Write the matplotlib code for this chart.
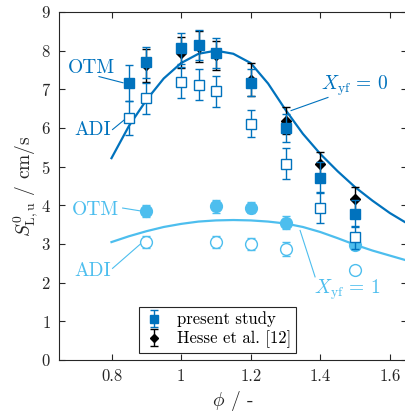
import numpy as np
import matplotlib
matplotlib.use("Agg")
import matplotlib.pyplot as plt

plt.rcParams['font.family'] = 'serif'
plt.rcParams['font.serif'] = ['cmr10', 'DejaVu Serif']
plt.rcParams['mathtext.fontset'] = 'cm'
plt.rcParams['axes.formatter.use_mathtext'] = True

dark = '#0072BD'
light = '#4DBEEE'

# X_yf = 0, present study
phi0 = [0.85, 0.9, 1.0, 1.05, 1.1, 1.2, 1.3, 1.4, 1.5]
otm0 = [7.17, 7.70, 8.06, 8.15, 7.94, 7.17, 6.00, 4.71, 3.78]
otm0_err = [0.47, 0.40, 0.40, 0.38, 0.40, 0.35, 0.35, 0.40, 0.35]
adi0 = [6.26, 6.77, 7.18, 7.12, 6.95, 6.11, 5.08, 3.94, 3.17]
adi0_err = [0.45, 0.40, 0.40, 0.40, 0.40, 0.35, 0.40, 0.40, 0.30]

# Hesse et al. [12]
phi_h = [0.9, 1.0, 1.05, 1.1, 1.2, 1.3, 1.4, 1.5]
hesse = [7.62, 7.95, 8.10, 7.88, 7.25, 6.19, 5.08, 4.17]
hesse_err = [0.42, 0.40, 0.40, 0.38, 0.42, 0.35, 0.30, 0.30]

# X_yf = 1, present study
phi1 = [0.9, 1.1, 1.2, 1.3, 1.5]
otm1 = [3.85, 3.98, 3.94, 3.55, 2.97]
otm1_err = [0.15, 0.17, 0.15, 0.17, 0.10]
adi1 = [3.05, 3.05, 3.00, 2.86, 2.34]
adi1_err = [0.15, 0.15, 0.15, 0.18, 0.10]

# simulation curves
phi_c = [0.8, 0.85, 0.9, 0.95, 1.0, 1.05, 1.1, 1.15, 1.2, 1.25,
         1.3, 1.35, 1.4, 1.45, 1.5, 1.55, 1.6, 1.65]
curve0 = [5.22, 6.05, 6.72, 7.28, 7.68, 7.92, 8.00, 7.92, 7.68, 7.15,
          6.47, 5.85, 5.33, 4.88, 4.47, 4.12, 3.80, 3.53]
curve1 = [3.05, 3.20, 3.33, 3.44, 3.52, 3.58, 3.61, 3.62, 3.61, 3.58,
          3.53, 3.44, 3.31, 3.15, 2.98, 2.83, 2.70, 2.57]

fig = plt.figure(figsize=(4.05, 4.18), dpi=100)
ax = fig.add_axes([59.3 / 405, 58 / 418, 348 / 405, 348 / 418])

ax.plot(phi_c, curve0, color=dark, lw=1.6, zorder=2)
ax.plot(phi_c, curve1, color=light, lw=1.6, zorder=2)

eb = dict(capsize=3, elinewidth=1.0, capthick=1.0, ls='none')
ax.errorbar(phi1, adi1, yerr=adi1_err, marker='o', ms=8.5, mfc='white',
            mec=light, color=light, zorder=3, **eb)
ax.errorbar(phi1, otm1, yerr=otm1_err, marker='o', ms=8.5, mfc=light,
            mec=light, color=light, zorder=3, **eb)
h_hesse = ax.errorbar(phi_h, hesse, yerr=hesse_err, marker='D', ms=5.5,
                      color='k', zorder=3, **eb)
ax.errorbar(phi0, adi0, yerr=adi0_err, marker='s', ms=7.5, mfc='white',
            mec=dark, color=dark, zorder=4, **eb)
h_present = ax.errorbar(phi0, otm0, yerr=otm0_err, marker='s', ms=7.5,
                        mfc=dark, mec=dark, color=dark, zorder=4, **eb)

# annotations
fs_ann = 14
ax.text(0.741, 7.56, 'OTM', color=dark, fontsize=fs_ann, ha='center', va='center')
ax.plot([0.764, 0.833], [7.33, 7.17], color=dark, lw=0.8)
ax.text(0.747, 5.96, 'ADI', color=dark, fontsize=fs_ann, ha='center', va='center')
ax.plot([0.803, 0.842], [5.96, 6.25], color=dark, lw=0.8)
ax.text(1.500, 7.10, r'$X_{\mathrm{yf}}\,=\,0$', color=dark, fontsize=fs_ann,
        ha='center', va='center')
ax.plot([1.422, 1.316], [6.79, 6.45], color=dark, lw=0.8)

ax.text(0.753, 3.87, 'OTM', color=light, fontsize=fs_ann, ha='center', va='center')
ax.plot([0.832, 0.887], [3.93, 3.85], color=light, lw=0.8)
ax.text(0.747, 2.30, 'ADI', color=light, fontsize=fs_ann, ha='center', va='center')
ax.plot([0.803, 0.887], [2.37, 3.03], color=light, lw=0.8)
ax.text(1.476, 1.81, r'$X_{\mathrm{yf}}\,=\,1$', color=light, fontsize=fs_ann,
        ha='center', va='center')
ax.plot([1.385, 1.342], [2.15, 3.35], color=light, lw=0.8)

ax.set_xlim(0.65, 1.65)
ax.set_ylim(0, 9)
ax.set_xticks([0.8, 1.0, 1.2, 1.4, 1.6])
ax.set_xticklabels(['0.8', '1', '1.2', '1.4', '1.6'])
ax.set_yticks(range(10))
ax.tick_params(direction='in', top=True, right=True, length=4, width=0.8,
               labelsize=12, colors='#262626', pad=6)
for s in ax.spines.values():
    s.set_color('#262626')
    s.set_linewidth(0.8)

ax.set_xlabel(r'$\phi$ / -', fontsize=14, color='#262626', labelpad=4)
ax.set_ylabel(r'$S^0_{\mathrm{L,u}}$ / cm/s', fontsize=14, color='#262626')
ax.yaxis.set_label_coords(-0.056, 0.5)

leg = ax.legend([h_present, h_hesse], ['present study', 'Hesse et al. [12]'],
                loc='lower center', bbox_to_anchor=(0.455, 0.019), fontsize=12,
                fancybox=False, edgecolor='#262626', framealpha=1,
                markerscale=0.7, handlelength=1.2, borderpad=0.3,
                labelspacing=0.2, handletextpad=0.8, borderaxespad=0)
leg.get_frame().set_linewidth(0.8)

fig.savefig('out.png', dpi=100)
